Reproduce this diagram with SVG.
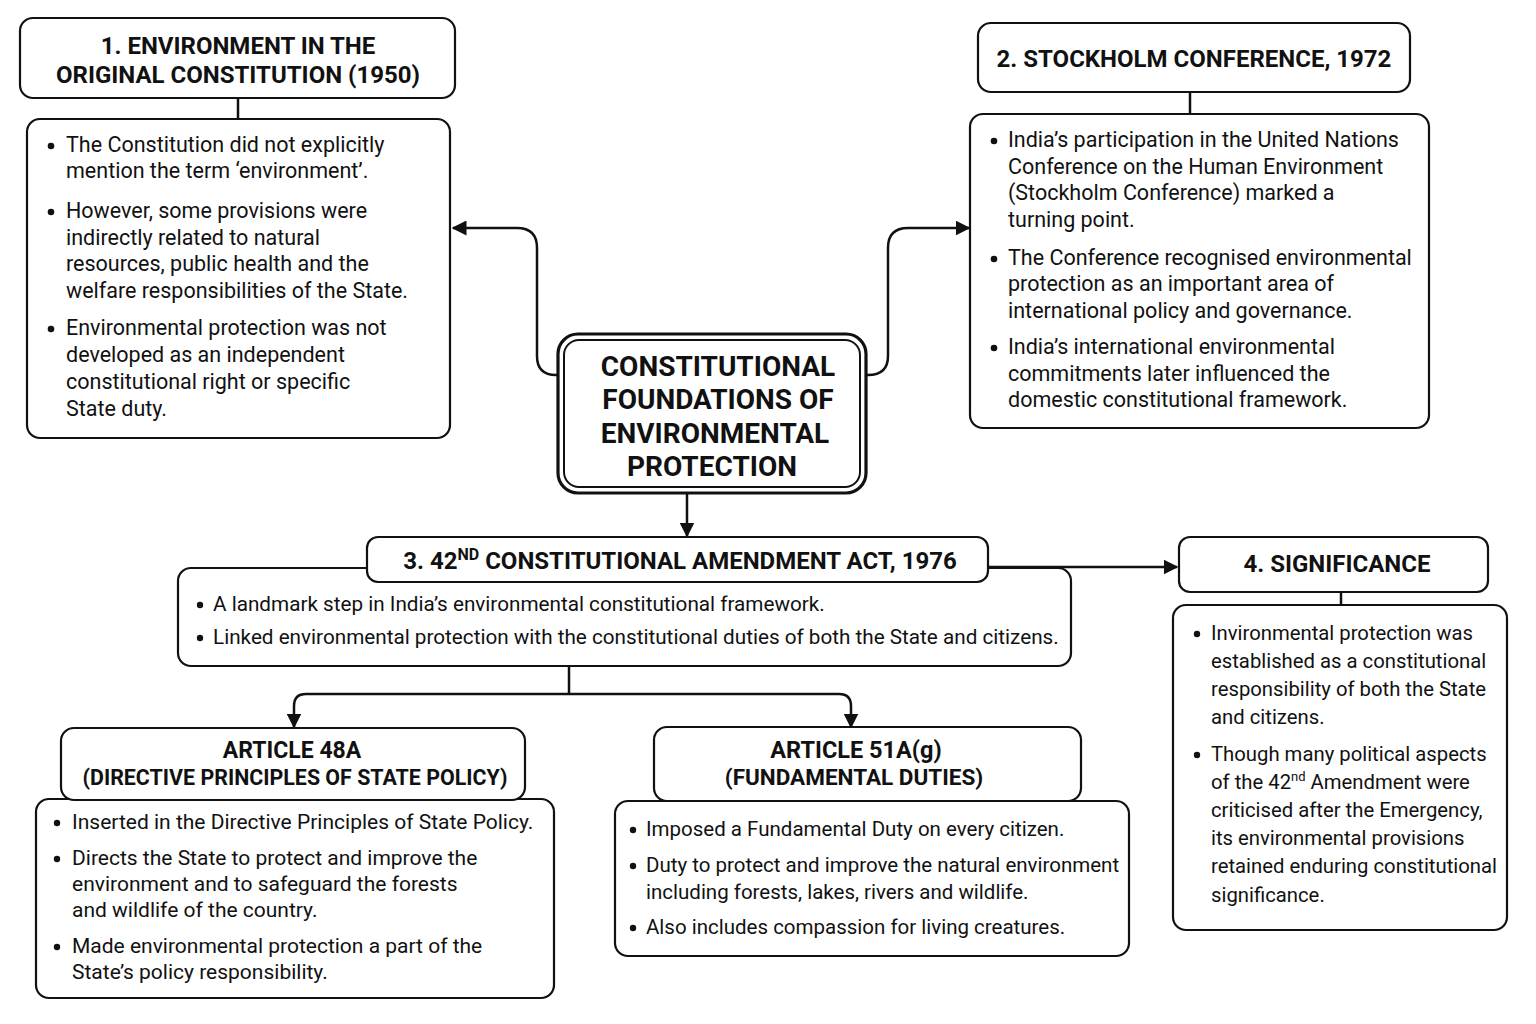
<svg xmlns="http://www.w3.org/2000/svg" width="1536" height="1024" viewBox="0 0 1536 1024">
<style>
.box{fill:#fff;stroke:#111;stroke-width:2.2}
.hd{font-family:Roboto,"Liberation Sans",sans-serif;font-weight:bold;font-size:24px;fill:#111;text-anchor:middle}
.ttl{font-family:Roboto,"Liberation Sans",sans-serif;font-weight:bold;font-size:28px;fill:#111;text-anchor:middle}
.tx{font-family:Roboto,"Liberation Sans",sans-serif;font-size:20px;fill:#111}
.b1 .tx,.b2 .tx{font-size:21.5px}
.b3 .tx{font-size:20.7px}
.b4 .tx{font-size:20.3px}
.b48 .tx{font-size:21px}
.b51 .tx{font-size:20.5px}
.dot{fill:#111}
.conn{stroke:#111;stroke-width:2.5;fill:none}
</style>
<defs>
<marker id="ah" viewBox="0 0 10 10" refX="9" refY="5" markerWidth="6" markerHeight="6" markerUnits="strokeWidth" orient="auto">
<path d="M0,0 L10,5 L0,10 z" fill="#111"/>
</marker>
</defs>
<rect width="1536" height="1024" fill="#fff"/>

<g id="connectors">
<line class="conn" x1="238" y1="98" x2="238" y2="119"/>
<line class="conn" x1="1190" y1="92" x2="1190" y2="114"/>
<line class="conn" x1="1341" y1="592" x2="1341" y2="605"/>
<path class="conn" marker-end="url(#ah)" d="M558,375 H556 Q537,375 537,356 V248 Q537,228 517,228 H453"/>
<path class="conn" marker-end="url(#ah)" d="M866,375 H868 Q888,375 888,356 V248 Q888,228 908,228 H969"/>
<path class="conn" marker-end="url(#ah)" d="M687,494 V536"/>
<path class="conn" marker-end="url(#ah)" d="M988,567 H1177"/>
<path class="conn" d="M569,666 V694"/>
<path class="conn" marker-end="url(#ah)" d="M569,694 H306 Q294,694 294,706 V727"/>
<path class="conn" marker-end="url(#ah)" d="M569,694 H839 Q851,694 851,706 V727"/>
</g>

<g id="node1">
<rect class="box" x="20" y="18" width="435" height="80" rx="13"/>
<text class="hd" x="238" y="54">1. ENVIRONMENT IN THE</text>
<text class="hd" x="238" y="83">ORIGINAL CONSTITUTION (1950)</text>
</g>
<g id="node1-body" class="b1">
<rect class="box" x="27" y="119" width="423" height="319" rx="13"/>
<circle class="dot" cx="51" cy="146" r="3.3"/>
<circle class="dot" cx="51" cy="212" r="3.3"/>
<circle class="dot" cx="51" cy="329" r="3.3"/>
<text class="tx" x="66" y="152">The Constitution did not explicitly</text>
<text class="tx" x="66" y="178">mention the term ‘environment’.</text>
<text class="tx" x="66" y="218">However, some provisions were</text>
<text class="tx" x="66" y="245">indirectly related to natural</text>
<text class="tx" x="66" y="271">resources, public health and the</text>
<text class="tx" x="66" y="298">welfare responsibilities of the State.</text>
<text class="tx" x="66" y="335">Environmental protection was not</text>
<text class="tx" x="66" y="362">developed as an independent</text>
<text class="tx" x="66" y="389">constitutional right or specific</text>
<text class="tx" x="66" y="416">State duty.</text>
</g>

<g id="node2">
<rect class="box" x="978" y="23" width="432" height="69" rx="13"/>
<text class="hd" x="1194" y="67">2. STOCKHOLM CONFERENCE, 1972</text>
</g>
<g id="node2-body" class="b2">
<rect class="box" x="970" y="114" width="459" height="314" rx="13"/>
<circle class="dot" cx="994" cy="141" r="3.3"/>
<circle class="dot" cx="994" cy="259" r="3.3"/>
<circle class="dot" cx="994" cy="348" r="3.3"/>
<text class="tx" x="1008" y="147">India’s participation in the United Nations</text>
<text class="tx" x="1008" y="174">Conference on the Human Environment</text>
<text class="tx" x="1008" y="200">(Stockholm Conference) marked a</text>
<text class="tx" x="1008" y="227">turning point.</text>
<text class="tx" x="1008" y="265">The Conference recognised environmental</text>
<text class="tx" x="1008" y="291">protection as an important area of</text>
<text class="tx" x="1008" y="318">international policy and governance.</text>
<text class="tx" x="1008" y="354">India’s international environmental</text>
<text class="tx" x="1008" y="381">commitments later influenced the</text>
<text class="tx" x="1008" y="407">domestic constitutional framework.</text>
</g>

<g id="center">
<rect x="558" y="334" width="308" height="159" rx="20" fill="#fff" stroke="#111" stroke-width="3.2"/>
<rect x="564" y="340" width="296" height="147" rx="15" fill="none" stroke="#111" stroke-width="2"/>
<text class="ttl" x="718" y="376">CONSTITUTIONAL</text>
<text class="ttl" x="718" y="409">FOUNDATIONS OF</text>
<text class="ttl" x="715" y="443">ENVIRONMENTAL</text>
<text class="ttl" x="712" y="476">PROTECTION</text>
</g>

<g id="node3-body" class="b3">
<rect class="box" x="178" y="568" width="893" height="98" rx="13"/>
<circle class="dot" cx="200" cy="605" r="3.2"/>
<circle class="dot" cx="200" cy="638" r="3.2"/>
<text class="tx" x="213" y="611">A landmark step in India’s environmental constitutional framework.</text>
<text class="tx" x="213" y="644">Linked environmental protection with the constitutional duties of both the State and citizens.</text>
</g>
<g id="node3">
<rect class="box" x="367" y="537" width="621" height="45" rx="11"/>
<text class="hd" x="680" y="569">3. 42<tspan style="font-size:16px" dy="-9">ND</tspan><tspan dy="9"> CONSTITUTIONAL AMENDMENT ACT, 1976</tspan></text>
</g>

<g id="node4">
<rect class="box" x="1179" y="537" width="309" height="55" rx="11"/>
<text class="hd" x="1337" y="572">4. SIGNIFICANCE</text>
</g>
<g id="node4-body" class="b4">
<rect class="box" x="1173" y="605" width="334" height="325" rx="13"/>
<circle class="dot" cx="1197" cy="634" r="3.2"/>
<circle class="dot" cx="1197" cy="755" r="3.2"/>
<text class="tx" x="1211" y="640">Invironmental protection was</text>
<text class="tx" x="1211" y="668">established as a constitutional</text>
<text class="tx" x="1211" y="696">responsibility of both the State</text>
<text class="tx" x="1211" y="724">and citizens.</text>
<text class="tx" x="1211" y="761">Though many political aspects</text>
<text class="tx" x="1211" y="789">of the 42<tspan style="font-size:13px" dy="-8">nd</tspan><tspan dy="8"> Amendment were</tspan></text>
<text class="tx" x="1211" y="817">criticised after the Emergency,</text>
<text class="tx" x="1211" y="845">its environmental provisions</text>
<text class="tx" x="1211" y="873">retained enduring constitutional</text>
<text class="tx" x="1211" y="902">significance.</text>
</g>

<g id="art48a-body" class="b48">
<rect class="box" x="36" y="799" width="518" height="199" rx="13"/>
<circle class="dot" cx="57" cy="823" r="3.2"/>
<circle class="dot" cx="57" cy="859" r="3.2"/>
<circle class="dot" cx="57" cy="947" r="3.2"/>
<text class="tx" x="72" y="829">Inserted in the Directive Principles of State Policy.</text>
<text class="tx" x="72" y="865">Directs the State to protect and improve the</text>
<text class="tx" x="72" y="891">environment and to safeguard the forests</text>
<text class="tx" x="72" y="917">and wildlife of the country.</text>
<text class="tx" x="72" y="953">Made environmental protection a part of the</text>
<text class="tx" x="72" y="979">State’s policy responsibility.</text>
</g>
<g id="art48a">
<rect class="box" x="61" y="728" width="464" height="72" rx="13"/>
<text class="hd" x="292" y="758" style="font-size:23px">ARTICLE 48A</text>
<text class="hd" x="295" y="785" style="font-size:21.4px">(DIRECTIVE PRINCIPLES OF STATE POLICY)</text>
</g>

<g id="art51a-body" class="b51">
<rect class="box" x="615" y="801" width="514" height="155" rx="13"/>
<circle class="dot" cx="633" cy="830" r="3.2"/>
<circle class="dot" cx="633" cy="866" r="3.2"/>
<circle class="dot" cx="633" cy="928" r="3.2"/>
<text class="tx" x="646" y="836">Imposed a Fundamental Duty on every citizen.</text>
<text class="tx" x="646" y="872">Duty to protect and improve the natural environment</text>
<text class="tx" x="646" y="899">including forests, lakes, rivers and wildlife.</text>
<text class="tx" x="646" y="934">Also includes compassion for living creatures.</text>
</g>
<g id="art51a">
<rect class="box" x="654" y="727" width="427" height="74" rx="13"/>
<text class="hd" x="856" y="758" style="font-size:23.5px">ARTICLE 51A(g)</text>
<text class="hd" x="854" y="785" style="font-size:22.5px">(FUNDAMENTAL DUTIES)</text>
</g>
</svg>
